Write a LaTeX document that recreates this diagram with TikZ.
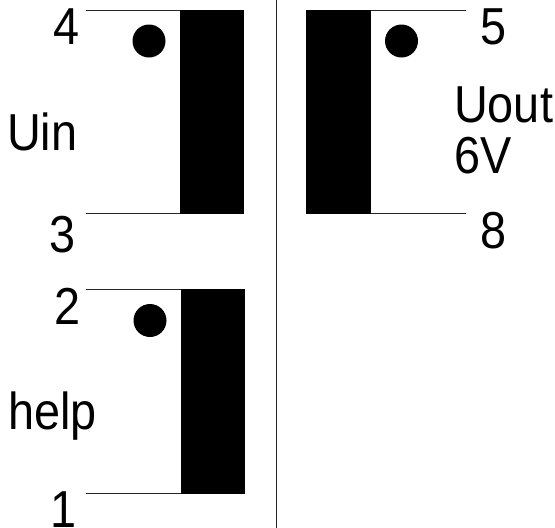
\documentclass[tikz,border=0pt]{standalone}
\usepackage{fontspec}
\setmainfont{Liberation Sans}
\tikzset{
  core/.style={fill=black,draw=none,anchor=north west,inner sep=0pt,minimum width=#1},
  wire/.style={line width=0.8pt,black!85},
  dot/.style={circle,fill=black,draw=none,inner sep=0pt,minimum size=24pt},
  lab/.style={inner sep=0pt,anchor=base,transform shape,xscale=0.9,font=\fontsize{52}{52}\selectfont},
  labw/.style={lab,anchor=base west},
}
\begin{document}
\begin{tikzpicture}[x=1pt,y=-1pt]
\useasboundingbox (0,0) rectangle (555,528);
\fill[white] (0,0) rectangle (555,528);
\node[core=64pt,minimum height=204pt] (c1) at (180,10) {};
\node[core=65pt,minimum height=204pt] (c2) at (306,10) {};
\node[core=64pt,minimum height=205pt] (c3) at (181,289) {};
\node[dot,minimum size=33pt] (d1) at (149,41) {};
\node[dot,minimum size=33pt] (d2) at (401.5,41) {};
\node[dot,minimum size=33pt] (d3) at (150,320.5) {};
\coordinate (w4) at (86,10);
\coordinate (w3) at (86,213.5);
\coordinate (w5) at (466,10);
\coordinate (w8) at (466,213.5);
\coordinate (w2) at (86,289);
\coordinate (w1) at (86,493.5);
\draw[wire] (w4) -- (w4 -| c1.west);
\draw[wire] (w3) -- (w3 -| c1.west);
\draw[wire] (w5) -- (w5 -| c2.east);
\draw[wire] (w8) -- (w8 -| c2.east);
\draw[wire] (w2) -- (w2 -| c3.west);
\draw[wire] (w1) -- (w1 -| c3.west);
\coordinate (s1) at (276,0);
\coordinate (s2) at (276,528);
\draw[wire] (s1) -- (s2);
\node[lab] (n4) at (67,44) {4};
\node[lab] (n3) at (63,252) {3};
\node[lab] (n5) at (494,44) {5};
\node[lab] (n8) at (494,248) {8};
\node[lab] (n2) at (68,324) {2};
\node[lab] (n1) at (64,527) {1};
\node[labw] (uin) at (7,150) {Uin};
\node[labw] (uout) at (454,122) {Uout};
\node[labw] (v6) at (454,173) {6V};
\node[labw] (help) at (8,429) {help};
\end{tikzpicture}
\end{document}
